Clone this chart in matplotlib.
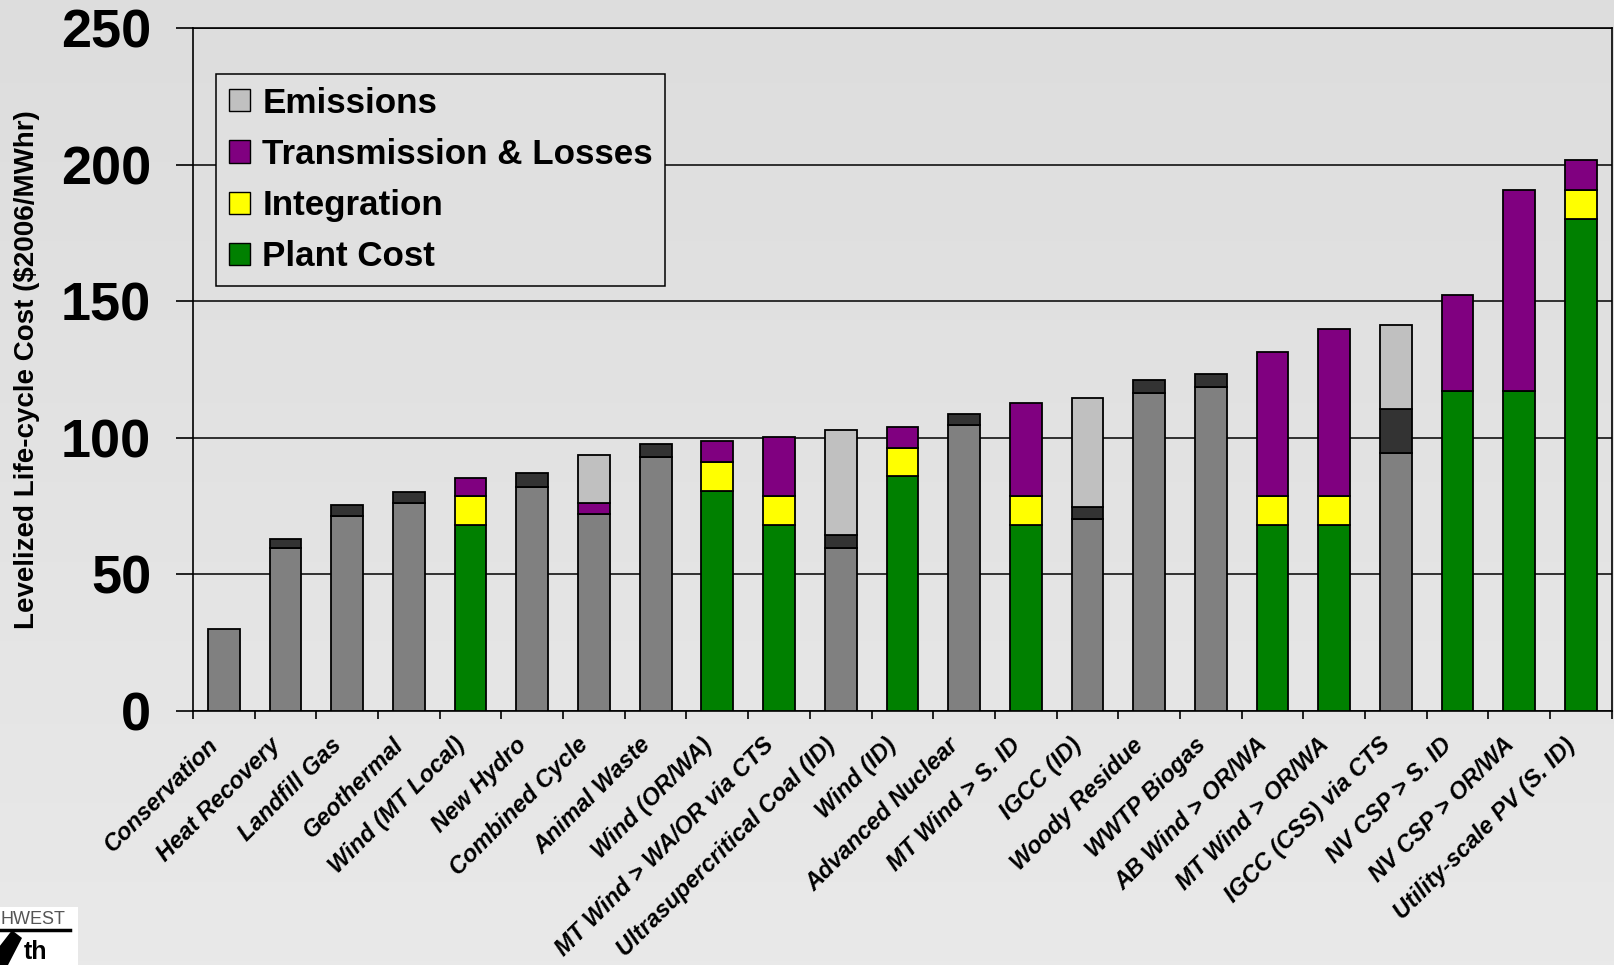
import numpy as np
import matplotlib.pyplot as plt
from matplotlib.colors import LinearSegmentedColormap
from matplotlib.patches import Patch, Rectangle, Polygon
from matplotlib.transforms import ScaledTranslation

categories = [
    "Conservation", "Heat Recovery", "Landfill Gas", "Geothermal",
    "Wind (MT Local)", "New Hydro", "Combined Cycle", "Animal Waste",
    "Wind (OR/WA)", "MT Wind > WA/OR via CTS", "Ultrasupercritical Coal (ID)",
    "Wind (ID)", "Advanced Nuclear", "MT Wind > S. ID", "IGCC (ID)",
    "Woody Residue", "WWTP Biogas", "AB Wind > OR/WA", "MT Wind > OR/WA",
    "IGCC (CSS) via CTS", "NV CSP > S. ID", "NV CSP > OR/WA",
    "Utility-scale PV (S. ID)",
]

# $2006/MWhr, stacked bottom to top
conventional = [30, 59.6, 71.5, 76.1, 0, 81.9, 72.1, 93.1, 0, 0, 59.6, 0,
                104.7, 0, 70.2, 116.5, 118.5, 0, 0, 94.3, 0, 0, 0]
plant_cost = [0, 0, 0, 0, 68.2, 0, 0, 0, 80.4, 68.2, 0, 86, 0, 68.2, 0, 0, 0,
              68.2, 68.2, 0, 117.2, 117.2, 180.2]
other = [0, 3.5, 4, 3.9, 0, 5.3, 0, 4.6, 0, 0, 4.7, 0, 4, 0, 4.6, 4.7, 4.7,
         0, 0, 16.4, 0, 0, 0]
integration = [0, 0, 0, 0, 10.4, 0, 0, 0, 10.6, 10.4, 0, 10.3, 0, 10.4, 0, 0,
               0, 10.4, 10.4, 0, 0, 0, 10.5]
transmission = [0, 0, 0, 0, 6.7, 0, 4, 0, 7.9, 21.7, 0, 7.8, 0, 34.1, 0, 0,
                0, 52.9, 61.2, 0, 35.1, 73.5, 11]
emissions = [0, 0, 0, 0, 0, 0, 17.6, 0, 0, 0, 38.6, 0, 0, 0, 39.8, 0, 0, 0,
             0, 30.6, 0, 0, 0]

yticks = [0, 50, 100, 150, 200, 250]

plt.rcParams["font.family"] = ["Liberation Sans", "DejaVu Sans"]

fig = plt.figure(figsize=(16.14, 9.65), dpi=100)

# soft vertical gradient behind everything
bg = fig.add_axes([0, 0, 1, 1], zorder=-10)
grad = np.linspace(0, 1, 256).reshape(-1, 1)
bg.imshow(grad, aspect="auto", extent=[0, 1, 0, 1], origin="upper",
          cmap=LinearSegmentedColormap.from_list("bg", ["#dddddd", "#e9e9e9"]))
bg.axis("off")

ax = fig.add_axes([0.1196, 0.2632, 0.8790, 0.7078])
ax.set_facecolor("none")

x = np.arange(len(categories))
width = 0.515
bottom = np.zeros(len(categories))
series = [
    (conventional, "#808080"),
    (plant_cost, "#008000"),
    (other, "#333333"),
    (integration, "#ffff00"),
    (transmission, "#800080"),
    (emissions, "#c0c0c0"),
]
for vals, color in series:
    vals = np.array(vals, dtype=float)
    m = vals > 0
    ax.bar(x[m], vals[m], width, bottom=bottom[m], color=color,
           edgecolor="black", linewidth=1.3, zorder=3)
    bottom += vals

ax.set_xlim(-0.5, len(categories) - 0.5)
ax.set_ylim(0, 250)
ax.set_yticks(yticks)
ax.set_yticklabels([str(v) for v in yticks], fontsize=39, fontweight="bold")
ax.tick_params(axis="y", direction="out", length=12, width=1.2, pad=18)
ax.yaxis.grid(True, color="black", linewidth=1.1, zorder=0)
ax.set_axisbelow(True)

ax.set_xticks(x)
ax.set_xticklabels(categories, rotation=45, ha="right", va="center",
                   rotation_mode="anchor", fontsize=17, fontweight="bold",
                   fontstyle="italic")
ax.tick_params(axis="x", which="major", length=0, pad=22)
shift = ScaledTranslation(-9 / 100, 0, fig.dpi_scale_trans)
for lbl in ax.get_xticklabels():
    lbl.set_transform(lbl.get_transform() + shift)
ax.set_xticks(np.arange(-0.5, len(categories), 1.0), minor=True)
ax.tick_params(axis="x", which="minor", direction="out", length=6, width=1.2)

for s in ax.spines.values():
    s.set_color("black")
    s.set_linewidth(1.2)

fig.text(0.0165, 0.6166, "Levelized Life-cycle Cost ($2006/MWhr)", rotation=90,
         ha="center", va="center", fontsize=20, fontweight="bold")

handles = [
    Patch(facecolor="#c0c0c0", edgecolor="black", label="Emissions"),
    Patch(facecolor="#800080", edgecolor="black", label="Transmission & Losses"),
    Patch(facecolor="#ffff00", edgecolor="black", label="Integration"),
    Patch(facecolor="#008000", edgecolor="black", label="Plant Cost"),
]
leg = ax.legend(handles=handles, loc="upper left", bbox_to_anchor=(0.0162, 0.9327),
                borderaxespad=0, fancybox=False, framealpha=1, facecolor="#e0e0e0",
                edgecolor="black", prop={"size": 25.2, "weight": "bold"},
                handlelength=0.6, handleheight=0.6, handletextpad=0.36,
                labelspacing=0.52, borderpad=0.36)
leg.get_frame().set_linewidth(1.1)
leg.set_zorder(5)

# corner logo
fig.patches.append(Rectangle((0, 0), 78 / 1614, 58 / 965, transform=fig.transFigure,
                             facecolor="white", edgecolor="none", zorder=1))
fig.text(0.0, 0.0475, "HWEST", fontsize=13, color="#555555", ha="left", va="center")
fig.lines.append(plt.Line2D([0, 70 / 1614], [0.036, 0.036], transform=fig.transFigure,
                            color="black", linewidth=2.5))
fig.patches.append(Polygon([[0, 0.0], [0, 0.02], [12 / 1614, 0.036], [22 / 1614, 0.028],
                            [8 / 1614, 0.0]], closed=True, transform=fig.transFigure,
                           facecolor="black", edgecolor="none", zorder=2))
fig.text(24 / 1614, 0.001, "th", fontsize=18, fontweight="bold", ha="left", va="bottom")

fig.savefig("out.png", dpi=100)
